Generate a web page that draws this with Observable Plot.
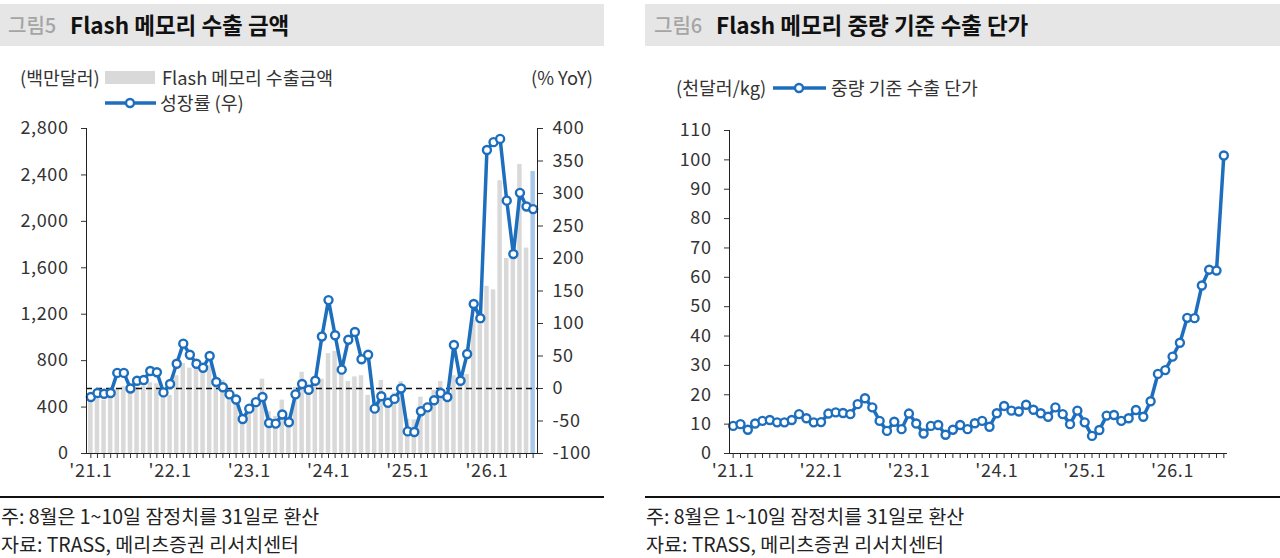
<!DOCTYPE html>
<html>
<head>
<meta charset="utf-8">
<script src="https://cdn.jsdelivr.net/npm/d3@7"></script>
<script src="https://cdn.jsdelivr.net/npm/@observablehq/plot@0.6"></script>
<style>
  body { margin: 0; background: #fff; }
  #root { position: relative; width: 1280px; height: 558px; overflow: hidden;
          font-family: "Noto Sans CJK KR", "Noto Sans", sans-serif; color: #222; }
  .titlebar { position: absolute; top: 4px; height: 42px; background: #e6e6e6; }
  .titlebar .fig { position: absolute; top: 6px; font-size: 20px; color: #a5a5a5; font-weight: 500; }
  .titlebar .main { position: absolute; top: 4px; font-size: 22.5px; color: #111; font-weight: 700; }
  .t { position: absolute; font-size: 18.3px; line-height: 24px; white-space: nowrap; color: #333; }
  .note { position: absolute; font-size: 19.5px; line-height: 24px; white-space: nowrap; color: #222; }
  .rule { position: absolute; top: 496px; height: 2px; background: #111; }
  .plot { position: absolute; top: 115px; }
  .plot svg text { letter-spacing: 0.6px; }
</style>
</head>
<body>
<div id="root">
  <div class="titlebar" style="left:0;width:604px;">
    <span class="fig" style="left:8px;">그림5</span>
    <span class="main" style="left:70px;">Flash 메모리 수출 금액</span>
  </div>
  <div class="titlebar" style="left:645px;width:635px;">
    <span class="fig" style="left:9px;">그림6</span>
    <span class="main" style="left:71px;">Flash 메모리 중량 기준 수출 단가</span>
  </div>

  <div class="t" style="left:20px;top:65px;">(백만달러)</div>
  <div style="position:absolute;left:105px;top:71px;width:50px;height:13px;background:#d9d9d9;"></div>
  <div class="t" style="left:162px;top:65px;">Flash 메모리 수출금액</div>
  <div class="t" style="right:687px;top:65px;">(% YoY)</div>
  <svg style="position:absolute;left:104px;top:94px;" width="54" height="18">
    <line x1="1" y1="9" x2="52" y2="9" stroke="#1e6ebe" stroke-width="3.5"/>
    <circle cx="26" cy="9" r="4" fill="#fff" stroke="#1e6ebe" stroke-width="2.4"/>
  </svg>
  <div class="t" style="left:160px;top:90px;">성장률 (우)</div>

  <div class="t" style="left:676px;top:75px;">(천달러/kg)</div>
  <svg style="position:absolute;left:772px;top:79px;" width="56" height="18">
    <line x1="1" y1="9" x2="54" y2="9" stroke="#1e6ebe" stroke-width="3.5"/>
    <circle cx="27" cy="9" r="4" fill="#fff" stroke="#1e6ebe" stroke-width="2.4"/>
  </svg>
  <div class="t" style="left:831px;top:75px;">중량 기준 수출 단가</div>

  <div id="leftPlot" class="plot" style="left:0;"></div>
  <div id="rightPlot" class="plot" style="left:645px;"></div>

  <div class="rule" style="left:0;width:604px;"></div>
  <div class="rule" style="left:645px;width:635px;"></div>
  <div class="note" style="left:1px;top:504px;">주: 8월은 1~10일 잠정치를 31일로 환산</div>
  <div class="note" style="left:1px;top:532px;">자료: TRASS, 메리츠증권 리서치센터</div>
  <div class="note" style="left:646px;top:504px;">주: 8월은 1~10일 잠정치를 31일로 환산</div>
  <div class="note" style="left:646px;top:532px;">자료: TRASS, 메리츠증권 리서치센터</div>
</div>

<script>
// ---- data (monthly, 2021.1 – 2026.8) ----
const yearLabels = ["'21.1", "'22.1", "'23.1", "'24.1", "'25.1", "'26.1"];

// Flash memory export amount (USD mn)
const exportAmount = [
  455, 470, 460, 475, 555, 575, 520, 570, 580, 610, 600, 520,
  500, 670, 775, 735, 745, 730, 760, 650, 630, 560, 510, 320,
  370, 470, 640, 360, 320, 460, 320, 570, 700, 570, 610, 640,
  860, 880, 690, 620, 660, 670, 500, 400, 630, 450, 520, 620,
  295, 290, 485, 440, 545, 620, 440, 670, 680, 680, 1150, 1110,
  1440, 1410, 2350, 1680, 1680, 2490, 1770, 2430
];

// Growth rate (% YoY, right axis)
const growthYoY = [
  -13, -7, -8, -7, 24, 24, 0, 12, 13, 27, 25, -6,
  7, 38, 69, 52, 38, 32, 50, 10, 2, -9, -17, -47,
  -31, -21, -13, -53, -54, -40, -52, -9, 7, -2, 12, 80,
  136, 82, 29, 75, 87, 45, 52, -31, -12, -22, -16, 0,
  -66, -67, -35, -29, -18, -7, -13, 67, 12, 53, 130, 108,
  367, 379, 384, 289, 207, 301, 280, 276
];

// Export unit price by weight (USD thousand / kg)
const unitPrice = [
  9.4, 10.0, 8.1, 10.2, 11.1, 11.4, 10.6, 10.6, 11.4, 13.4, 12.0, 10.6,
  10.7, 13.6, 14.0, 13.8, 13.4, 16.8, 18.8, 15.7, 11.1, 7.7, 10.8, 8.3,
  13.6, 10.2, 6.8, 9.4, 9.7, 6.4, 8.1, 9.7, 8.3, 10.3, 11.1, 9.1,
  13.7, 16.2, 14.6, 14.3, 16.6, 14.9, 13.7, 12.5, 15.7, 13.4, 10.0, 14.6,
  10.6, 6.0, 8.0, 12.9, 13.1, 11.1, 12.0, 14.8, 12.5, 17.8, 27.1, 28.4,
  33.0, 37.7, 46.2, 46.1, 57.2, 62.6, 62.3, 101.5
];

const leftTicks = [0, 400, 800, 1200, 1600, 2000, 2400, 2800];
const rightTicks = [-100, -50, 0, 50, 100, 150, 200, 250, 300, 350, 400];
const priceTicks = [0, 10, 20, 30, 40, 50, 60, 70, 80, 90, 100, 110];

// ---- helpers ----
const BLUE = "#1e6ebe";
const FONT = '"Noto Sans CJK KR", "Noto Sans", sans-serif';
const monthIndex = d3.range(exportAmount.length);
const lastIdx = monthIndex.length - 1;
const leftMax = leftTicks[leftTicks.length - 1];
const rMin = rightTicks[0], rMax = rightTicks[rightTicks.length - 1];
const toLeft = v => (v - rMin) * leftMax / (rMax - rMin);
const fromLeft = y => y * (rMax - rMin) / leftMax + rMin;
const xFmt = i => (i % 12 === 0 ? yearLabels[i / 12] : "");

const rows = monthIndex.map(i => ({
  i, amount: exportAmount[i], growth: growthYoY[i], price: unitPrice[i]
}));

const style = {
  fontFamily: FONT, fontSize: "18px", color: "#333",
  background: "transparent", overflow: "visible"
};

const left = Plot.plot({
  width: 604, height: 370,
  marginLeft: 86, marginRight: 67, marginTop: 13, marginBottom: 32,
  style,
  x: { type: "band", domain: monthIndex, padding: 0.32, round: false },
  y: { domain: [0, leftMax] },
  marks: [
    Plot.barY(rows.filter(d => d.i !== lastIdx), { x: "i", y: "amount", fill: "#d9d9d9" }),
    Plot.barY(rows.filter(d => d.i === lastIdx), { x: "i", y: "amount", fill: "#a9c9ea" }),
    Plot.ruleY([toLeft(0)], { stroke: "#111", strokeWidth: 1.6, strokeDasharray: "6,4" }),
    Plot.line(rows, { x: "i", y: d => toLeft(d.growth), stroke: BLUE, strokeWidth: 3.5 }),
    Plot.dot(rows, { x: "i", y: d => toLeft(d.growth), r: 4, fill: "#fff", stroke: BLUE, strokeWidth: 2.4 }),
    Plot.axisX({ ticks: monthIndex, tickFormat: xFmt, tickSize: 5, tickPadding: 6, label: null }),
    Plot.axisY({ anchor: "left", ticks: leftTicks, tickFormat: d3.format(","), tickSize: 5, tickPadding: 13, label: null }),
    Plot.axisY(rightTicks.map(toLeft), { anchor: "right", tickFormat: d => String(Math.round(fromLeft(d))), tickSize: 5, tickPadding: 10, label: null }),
    Plot.frame({ anchor: "left", stroke: "#222" }),
    Plot.frame({ anchor: "right", stroke: "#222" }),
    Plot.ruleY([0], { stroke: "#222" })
  ]
});
document.getElementById("leftPlot").append(left);

const right = Plot.plot({
  width: 635, height: 370,
  marginLeft: 84, marginRight: 53, marginTop: 15, marginBottom: 32,
  style,
  x: { type: "point", domain: monthIndex, padding: 0.5, round: false },
  y: { domain: [0, priceTicks[priceTicks.length - 1]] },
  marks: [
    Plot.line(rows, { x: "i", y: "price", stroke: BLUE, strokeWidth: 3.5 }),
    Plot.dot(rows, { x: "i", y: "price", r: 4, fill: "#fff", stroke: BLUE, strokeWidth: 2.4 }),
    Plot.axisX({ ticks: monthIndex, tickFormat: xFmt, tickSize: 5, tickPadding: 6, label: null }),
    Plot.axisY({ anchor: "left", ticks: priceTicks, tickSize: 5, tickPadding: 13, label: null }),
    Plot.frame({ anchor: "left", stroke: "#222" }),
    Plot.ruleY([0], { stroke: "#222" })
  ]
});
document.getElementById("rightPlot").append(right);
</script>
</body>
</html>
